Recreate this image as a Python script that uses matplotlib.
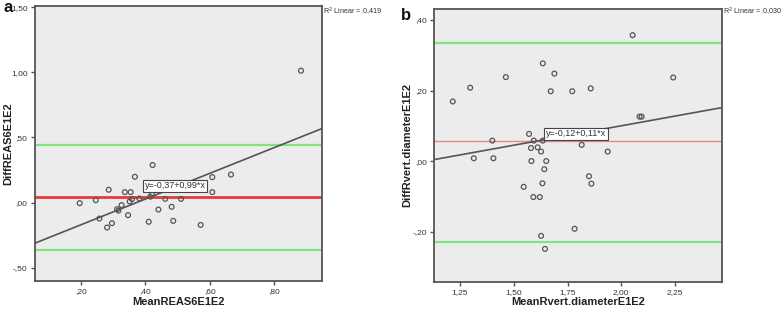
import matplotlib
matplotlib.use("Agg")
import matplotlib.pyplot as plt
import numpy as np
from matplotlib.ticker import FuncFormatter

plt.rcParams['font.family'] = ['Liberation Sans Narrow', 'Liberation Sans', 'DejaVu Sans']

# ---------------- Data: panel a ----------------
a_mean = [0.197, 0.247, 0.287, 0.258, 0.297, 0.282, 0.317, 0.313, 0.327, 0.337,
          0.355, 0.347, 0.352, 0.359, 0.368, 0.382, 0.411, 0.423, 0.416, 0.421,
          0.441, 0.462, 0.482, 0.487, 0.511, 0.572, 0.608, 0.608, 0.666, 0.883]
a_diff = [-0.005, 0.018, 0.098, -0.123, -0.159, -0.192, -0.062, -0.051, -0.020, 0.080,
          0.080, -0.097, 0.008, 0.026, 0.198, 0.031, -0.148, 0.288, 0.045, 0.065,
          -0.054, 0.028, -0.033, -0.141, 0.028, -0.172, 0.195, 0.080, 0.215, 1.013]
a_bias = 0.046
a_loa = [0.442, -0.362]
a_fit = (-0.37, 0.99)
a_r2 = "0,419"
a_eq = "y=-0,37+0,99*x"
a_xticks = [0.2, 0.4, 0.6, 0.8]
a_yticks = [-0.5, 0.0, 0.5, 1.0, 1.5]

# ---------------- Data: panel b ----------------
b_mean = [1.216, 1.297, 1.463, 1.635, 1.689, 1.672, 1.772, 1.400, 1.571, 1.593,
          1.635, 1.580, 1.611, 1.627, 1.314, 1.405, 1.582, 1.651, 1.642, 1.633,
          1.546, 1.591, 1.621, 1.783, 1.627, 1.645, 2.053, 2.242, 1.858, 2.085,
          2.095, 1.816, 1.937, 1.850, 1.861]
b_diff = [0.169, 0.208, 0.238, 0.277, 0.248, 0.198, 0.198, 0.058, 0.077, 0.058,
          0.058, 0.037, 0.039, 0.027, 0.008, 0.008, 0.000, 0.000, -0.023, -0.063,
          -0.073, -0.102, -0.102, -0.192, -0.212, -0.249, 0.357, 0.237, 0.206, 0.126,
          0.126, 0.046, 0.027, -0.043, -0.064]
b_bias = 0.057
b_loa = [0.336, -0.229]
b_fit = (-0.12, 0.11)
b_r2 = "0,030"
b_eq = "y=-0,12+0,11*x"
b_xticks = [1.25, 1.50, 1.75, 2.00, 2.25]
b_yticks = [-0.2, 0.0, 0.2, 0.4]

W, H = 784, 311
fig = plt.figure(figsize=(W / 100, H / 100), dpi=100)


def fmt(v, _pos=None):
    s = f"{v:.2f}".replace(".", ",")
    if s.startswith("0,"):
        s = s[1:]
    elif s.startswith("-0,"):
        s = "-" + s[2:]
    return s


def panel(rect, xs, ys, bias, loa, fit, r2, eq, eqpos, xlim, ylim, xticks, yticks,
          xlabel, ylabel, ylabx, letter, letterpos, redcolor, redlw):
    l, t, r, b = rect
    ax = fig.add_axes([l / W, 1 - b / H, (r - l) / W, (b - t) / H])
    ax.set_facecolor('#ececec')
    ax.set_xlim(*xlim)
    ax.set_ylim(*ylim)
    for sp in ax.spines.values():
        sp.set_color('#555555')
        sp.set_linewidth(1.3)
    for v in loa:
        ax.axhline(v, color='#7fe37f', lw=1.6, zorder=2)
    ax.axhline(bias, color=redcolor, lw=redlw, zorder=2)
    xx = np.array(xlim)
    ax.plot(xx, fit[0] + fit[1] * xx, color='#555555', lw=1.2, zorder=3)
    ax.scatter(xs, ys, s=12, facecolors='none', edgecolors='#555555', linewidths=0.9, zorder=4)
    ax.text(eqpos[0], eqpos[1], eq, fontsize=6.5, color='#333333', ha='left', va='center',
            zorder=5, bbox=dict(boxstyle='square,pad=0.2', fc='white', ec='#444444', lw=0.8))
    ax.set_xticks(xticks)
    ax.set_yticks(yticks)
    ax.xaxis.set_major_formatter(FuncFormatter(fmt))
    ax.yaxis.set_major_formatter(FuncFormatter(fmt))
    ax.tick_params(direction='out', length=3, width=1, color='#555555',
                   labelsize=6, labelcolor='#333333', pad=2)
    cx = (l + r) / 2 / W
    fig.text(cx, 1 - 302 / H, xlabel, fontsize=8, fontweight='bold', color='#222222',
             ha='center', va='center')
    fig.text(ylabx / W, 1 - ((t + b) / 2) / H, ylabel, fontsize=8, fontweight='bold',
             color='#222222', ha='center', va='center', rotation=90)
    fig.text((r + 1) / W, 1 - 12 / H, "R$^2$ Linear = " + r2, fontsize=5.2,
             color='#333333', ha='left', va='center')
    fig.text(letterpos[0] / W, 1 - letterpos[1] / H, letter, fontsize=12,
             fontweight='bold', color='#111111', ha='left', va='center')
    return ax


panel((34.5, 6, 322, 281), a_mean, a_diff, a_bias, a_loa, a_fit, a_r2, a_eq,
      (0.398, 0.128), (0.057, 0.948), (-0.603, 1.51), a_xticks, a_yticks,
      "MeanREAS6E1E2", "DiffREAS6E1E2", 8, "a", (3, 8), '#e83a3a', 2.0)
panel((434.3, 8.7, 722, 281.7), b_mean, b_diff, b_bias, b_loa, b_fit, b_r2, b_eq,
      (1.649, 0.077), (1.13, 2.469), (-0.342, 0.432), b_xticks, b_yticks,
      "MeanRvert.diameterE1E2", "DiffRvert.diameterE1E2", 407, "b", (401, 15), '#e38a8a', 1.0)

fig.savefig("out.png", dpi=100, facecolor='white')
